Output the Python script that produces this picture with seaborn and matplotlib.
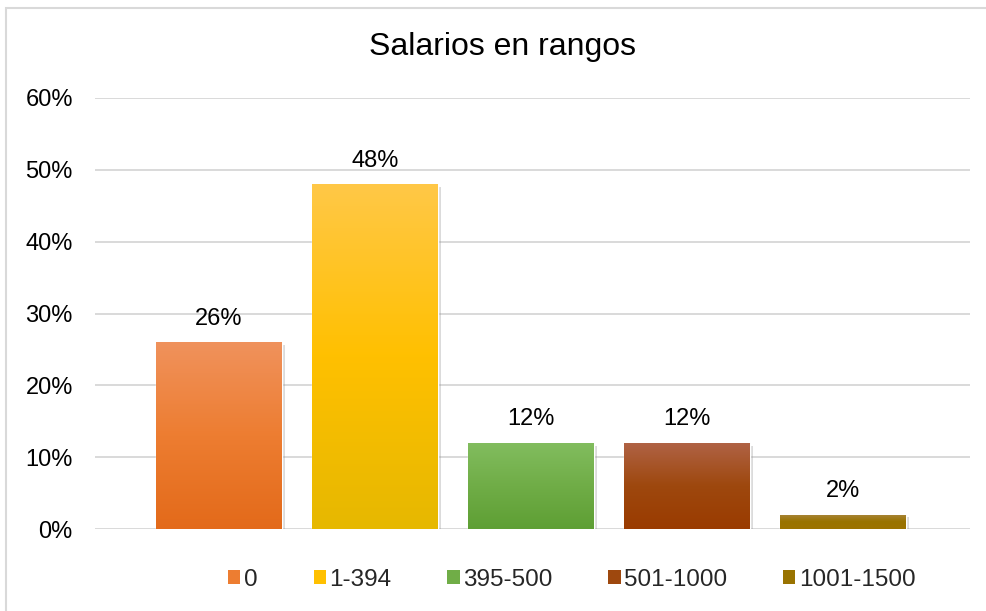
import numpy as np
import matplotlib
matplotlib.use("Agg")
import matplotlib.pyplot as plt
import seaborn as sns
from matplotlib.patches import Patch, Rectangle
from matplotlib.colors import LinearSegmentedColormap
import matplotlib.patheffects as pe

# ---- data ----
categories = ["0", "1-394", "395-500", "501-1000", "1001-1500"]
values = [0.26, 0.48, 0.12, 0.12, 0.02]
title = "Salarios en rangos"
yticks = [0.0, 0.1, 0.2, 0.3, 0.4, 0.5, 0.6]
ytick_labels = ["0%", "10%", "20%", "30%", "40%", "50%", "60%"]

base_colors = ["#ED7D31", "#FFC000", "#70AD47", "#9E480E", "#997300"]
top_colors = ["#F0925C", "#FFC847", "#82BD5F", "#B06346", "#A8853B"]
bottom_colors = ["#E36A1A", "#E6B800", "#5E9F34", "#9A3B00", "#9C7300"]

sns.set_theme(style="white")
plt.rcParams["font.family"] = ["Liberation Sans", "DejaVu Sans"]

fig = plt.figure(figsize=(9.87, 6.11), dpi=100)
ax = fig.add_axes([95 / 987, (611 - 529) / 611, (970 - 95) / 987, (529 - 98) / 611])

sns.barplot(x=categories, y=values, hue=categories, palette=base_colors,
            order=categories, hue_order=categories, legend=False,
            width=126 / 156, saturation=1, ax=ax)

# gradient fill + soft shadow on each bar
for patch, c_top, c_mid, c_bot in zip(ax.patches, top_colors, base_colors, bottom_colors):
    x0, y0 = patch.get_x(), patch.get_y()
    w, h = patch.get_width(), patch.get_height()
    patch.set_path_effects([pe.SimplePatchShadow(offset=(2, -2), shadow_rgbFace="#888888", alpha=0.3),
                            pe.Normal()])
    cmap = LinearSegmentedColormap.from_list("g", [c_bot, c_mid, c_top])
    grad = np.linspace(0, 1, 256).reshape(-1, 1)
    im = ax.imshow(grad, extent=(x0, x0 + w, y0, y0 + h), origin="lower",
                   cmap=cmap, aspect="auto", zorder=patch.get_zorder() + 0.1,
                   interpolation="bicubic")
    im.set_clip_path(patch)

ax.set_xlim((95 - 219) / 156, (970 - 219) / 156)
ax.set_ylim(0, 0.6)

# data labels
for i, v in enumerate(values):
    ax.annotate(f"{round(v * 100)}%", xy=(i, v), xytext=(0, 9), textcoords="offset points",
                ha="center", va="bottom", fontsize=17, color="#000000")

ax.set_yticks(yticks)
ax.set_yticklabels(ytick_labels, fontsize=17, color="#000000")
ax.set_xticks([])
ax.tick_params(axis="y", length=0, pad=16)
ax.yaxis.grid(True, color="#D9D9D9", linewidth=1.4)
ax.set_axisbelow(True)
for s in ax.spines.values():
    s.set_visible(False)
ax.set_xlabel("")
ax.set_ylabel("")

fig.text(503 / 987, 1 - 47 / 611, title, ha="center", va="center", fontsize=23, color="#000000")

handles = [Patch(facecolor=c, edgecolor="none") for c in base_colors]
leg = fig.legend(handles, categories, loc="center", bbox_to_anchor=(572 / 987, 1 - 580 / 611),
                 ncol=5, frameon=False, fontsize=17.5, handlelength=0.5, handleheight=0.5,
                 handletextpad=0.15, columnspacing=2.3, borderaxespad=0)

# chart border
fig.patches.append(Rectangle((6 / 987, -0.05), 1.2, 1 - 8 / 611 + 0.05, transform=fig.transFigure,
                             fill=False, edgecolor="#D9D9D9", linewidth=1.5))

fig.savefig("out.png", dpi=100)
